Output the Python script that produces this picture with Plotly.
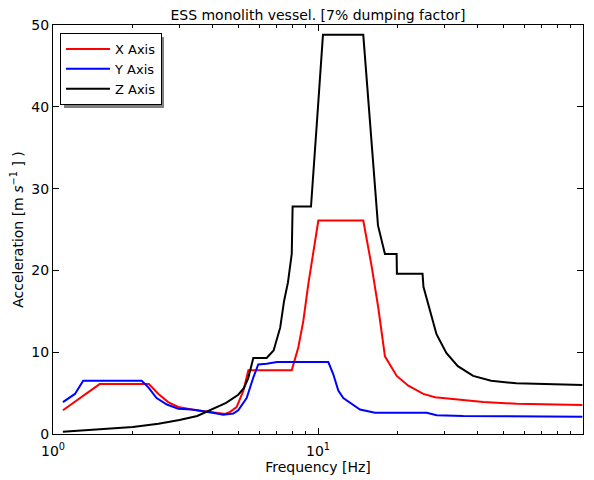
import plotly.graph_objects as go

# ---- data ----
x_freq = [1.09, 1.5, 2.3, 2.5, 2.72, 2.97, 3.34, 3.7, 4.27, 4.46, 4.66, 4.93, 5.23, 5.46,
          7.96, 8.43, 8.8, 9.19, 10.03, 14.82, 15.94, 16.89, 17.89, 19.82, 21.92, 24.97,
          27.64, 33.38, 42.06, 56.2, 99.5]
x_acc = [2.9, 6.1, 6.1, 4.9, 3.9, 3.3, 3.0, 2.8, 2.5, 2.45, 2.7, 3.3, 5.3, 7.8,
         7.8, 10.6, 13.8, 18.3, 26.1, 26.1, 20.5, 15.4, 9.5, 7.1, 5.9, 4.9,
         4.5, 4.2, 3.9, 3.7, 3.55]

y_freq = [1.09, 1.21, 1.3, 2.16, 2.29, 2.46, 2.69, 2.97, 3.34, 3.75, 4.0, 4.39, 4.79, 5.0,
          5.38, 5.7, 5.95, 6.4, 7.0, 10.94, 11.42, 11.93, 12.46, 14.4, 16.41, 25.72,
          28.05, 35.35, 99.5]
y_acc = [3.9, 4.9, 6.5, 6.5, 5.7, 4.4, 3.6, 3.1, 3.0, 2.8, 2.6, 2.35, 2.5, 2.9,
         4.4, 6.9, 8.5, 8.6, 8.8, 8.8, 7.3, 5.3, 4.4, 3.0, 2.6, 2.6,
         2.3, 2.2, 2.1]

z_freq = [1.09, 1.5, 2.0, 2.5, 3.0, 3.5, 4.0, 4.5, 5.0, 5.25, 5.45, 5.7, 6.4, 6.8, 7.2,
          7.45, 7.7, 7.96, 8.02, 9.41, 10.0, 10.44, 14.82, 16.84, 17.89, 19.8, 19.85,
          24.8, 25.0, 28.0, 30.5, 33.7, 38.5, 45.0, 56.0, 70.6, 99.5]
z_acc = [0.28, 0.6, 0.85, 1.25, 1.7, 2.2, 3.0, 3.8, 4.8, 5.6, 6.8, 9.3, 9.3, 10.2, 13.0,
         16.3, 18.5, 22.0, 27.8, 27.8, 40.0, 48.8, 48.8, 25.5, 22.0, 22.0, 19.6,
         19.6, 18.0, 12.2, 9.9, 8.3, 7.1, 6.5, 6.2, 6.1, 6.0]

x_ticks = [1, 10, 100]
x_ticktext = ["10<sup>0</sup>", "10<sup>1</sup>", "10<sup>2</sup>"]
y_ticks = [0, 10, 20, 30, 40, 50]

series = [("X Axis", x_freq, x_acc, "#ff0000"),
          ("Y Axis", y_freq, y_acc, "#0000ff"),
          ("Z Axis", z_freq, z_acc, "#000000")]

FONT = "DejaVu Sans"
# the page adds an 8px body margin, so the figure is sized / placed to compensate
W, H = 586, 472
L, R, T, B = 45, 11, 17, 46
PW, PH = W - L - R, H - T - B

fig = go.Figure()
for name, fx, fy, col in series:
    fig.add_trace(go.Scatter(x=fx, y=fy, mode="lines", name=name,
                             line=dict(color=col, width=2)))

axis_common = dict(showline=True, linecolor="black", linewidth=1, mirror="allticks",
                   ticks="inside", tickcolor="black", showgrid=False, zeroline=False,
                   automargin=False,
                   tickfont=dict(family=FONT, size=14, color="black"))

fig.update_xaxes(type="log", range=[0, 2], tickvals=x_ticks, ticktext=x_ticktext,
                 ticklen=6, tickwidth=1, ticklabelstandoff=4,
                 minor=dict(ticks="inside", ticklen=3, tickcolor="black", dtick="D1", showgrid=False),
                 title=dict(text="Frequency [Hz]", font=dict(family=FONT, size=14, color="black"),
                            standoff=2),
                 **axis_common)
fig.update_yaxes(range=[0, 50], tickvals=y_ticks, ticklen=6, tickwidth=1,
                 title=dict(text="Acceleration [m <i>s</i><sup>−1</sup> ] )",
                            font=dict(family=FONT, size=14, color="black"), standoff=13),
                 **axis_common)

# legend box position in figure pixels, and its drop shadow (drawn under the legend)
LG_X, LG_Y, LG_W, LG_H = L + 7, T + 8, 100, 71
SH = 4
fig.add_shape(type="rect", xref="paper", yref="paper",
              x0=(LG_X + SH - L) / PW, x1=(LG_X + SH + LG_W - L) / PW,
              y0=(T + PH - (LG_Y + SH + LG_H)) / PH, y1=(T + PH - (LG_Y + SH)) / PH,
              fillcolor="rgb(128,128,128)", line=dict(width=0), layer="above")

fig.update_layout(
    width=W, height=H,
    margin=dict(l=L, r=R, t=T, b=B, autoexpand=False),
    paper_bgcolor="white", plot_bgcolor="white",
    title=dict(text="ESS monolith vessel. [7% dumping factor]", x=(L + PW / 2) / W, xanchor="center",
               y=1 - 7 / H, yanchor="middle",
               font=dict(family=FONT, size=14, color="black")),
    font=dict(family=FONT, size=14, color="black"),
    legend=dict(x=(LG_X - L) / PW, y=(T + PH - LG_Y) / PH, xanchor="left", yanchor="top",
                bgcolor="white", bordercolor="black", borderwidth=1,
                font=dict(family=FONT, size=13, color="black"),
                itemwidth=44, tracegroupgap=0),
    showlegend=True,
)

fig.write_html("out.html")
